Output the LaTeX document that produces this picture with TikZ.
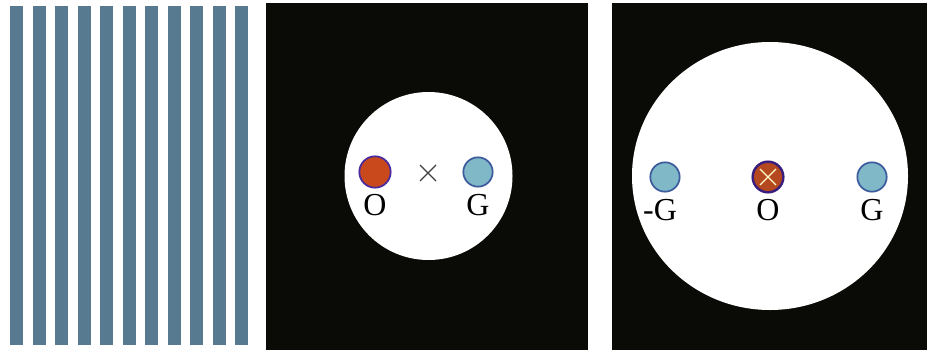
\documentclass[tikz,border=0pt]{standalone}
\usepackage{fontspec}
\usetikzlibrary{shapes.geometric}
\setmainfont{Liberation Serif}
\definecolor{stripe}{HTML}{577A91}
\definecolor{panel}{HTML}{0A0A07}
\definecolor{ofill}{HTML}{C9481C}
\definecolor{oedge}{HTML}{4A2A9E}
\definecolor{gfill}{HTML}{80B8C8}
\definecolor{gedge}{HTML}{3D5C9E}
\definecolor{o2fill}{HTML}{B5481E}
\definecolor{o2edge}{HTML}{3A1E7E}
\tikzset{
  spot/.style={circle, minimum size=#1, inner sep=0pt, line width=1.3pt},
  ospot/.style={spot=23.5pt, fill=ofill, draw=oedge},
  gspot/.style={spot=22pt, fill=gfill, draw=gedge},
  lbl/.style={font=\fontsize{24}{24}\selectfont, inner sep=0pt, text=black}
}
\begin{document}
\begin{tikzpicture}[x=0.75pt, y=-0.75pt]
\useasboundingbox (0,0) rectangle (927,350);
\fill[white] (0,0) rectangle (927,350);
% stripes
\foreach \i in {0,...,10}{
  \fill[stripe] (10+22.5*\i,6) rectangle (23+22.5*\i,345);
}
% middle panel
\fill[panel] (266,3) rectangle (588,350);
\node[circle, fill=white, minimum size=126pt, inner sep=0pt] (m) at (428.5,176) {};
\node[ospot] (mo) at (375,172) {};
\node[gspot] (mg) at (478,172) {};
\coordinate (mx) at (428,173);
\draw[line width=0.9pt, black!75] ([shift={(-8,-8)}]mx) -- ([shift={(8,8)}]mx)
  ([shift={(-8,8)}]mx) -- ([shift={(8,-8)}]mx);
\node[lbl] (mol) at (375,205) {O};
\node[lbl] (mgl) at (478,205) {G};
% right panel
\fill[panel] (612,3) rectangle (927,350);
\node[ellipse, fill=white, minimum width=207pt, minimum height=201pt, inner sep=0pt] (r) at (770,176) {};
\node[gspot] (rmg) at (665,177) {};
\node[spot=23pt, fill=o2fill, draw=o2edge, line width=1.8pt] (ro) at (768,177) {};
\draw[line width=1pt, white!80!yellow] ([shift={(-8,-8)}]ro.center) -- ([shift={(8,8)}]ro.center)
  ([shift={(-8,8)}]ro.center) -- ([shift={(8,-8)}]ro.center);
\node[gspot] (rg) at (872,177) {};
\node[lbl] (rmgl) at (660,210) {-G};
\node[lbl] (rol) at (768,210) {O};
\node[lbl] (rgl) at (872,210) {G};
\end{tikzpicture}
\end{document}
